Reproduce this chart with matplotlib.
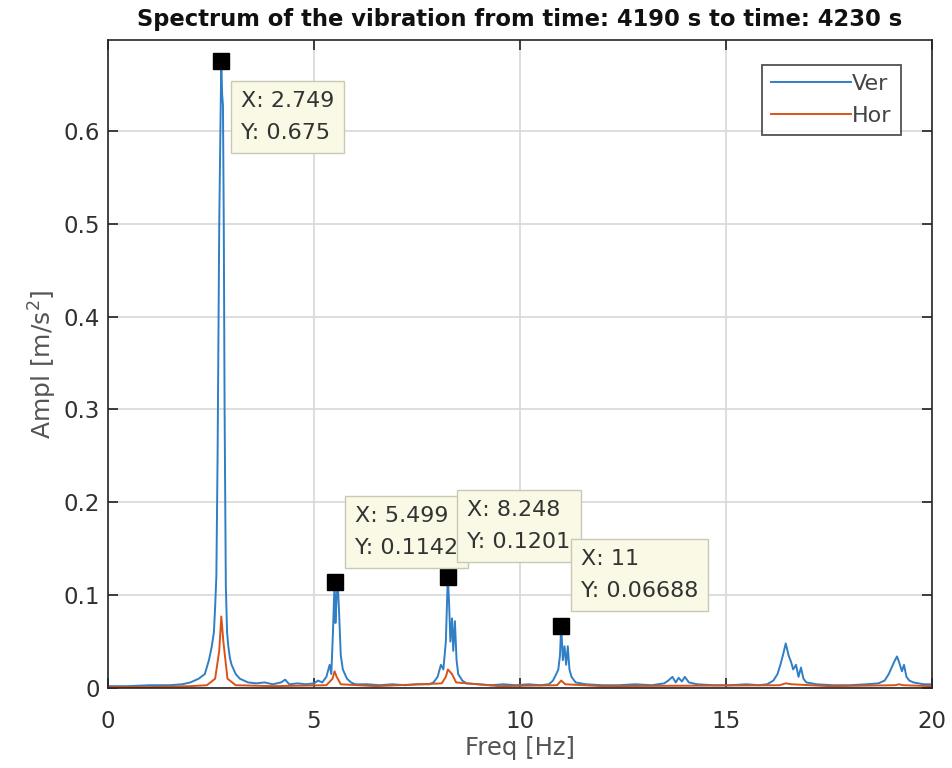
import matplotlib
matplotlib.use("Agg")
import matplotlib.pyplot as plt

plt.rcParams['font.family'] = ['DejaVu Sans']

title = "Spectrum of the vibration from time: 4190 s to time: 4230 s"

ver_f = [0.0, 0.5, 1.0, 1.5, 1.8, 2.0, 2.2, 2.35, 2.45, 2.52, 2.57, 2.6, 2.63, 2.66, 2.7, 2.749,
         2.77, 2.79, 2.81, 2.83, 2.86, 2.89, 2.92, 2.96, 3.0, 3.1, 3.2, 3.4, 3.6, 3.8, 4.0, 4.2, 4.3,
         4.4, 4.6, 4.8, 5.0, 5.1, 5.2, 5.3, 5.38, 5.42, 5.46, 5.499, 5.52, 5.55, 5.58, 5.61, 5.65,
         5.7, 5.8, 5.9, 6.0, 6.3, 6.6, 6.9, 7.2, 7.5, 7.8, 7.9, 8.0, 8.08, 8.14, 8.2, 8.248, 8.28,
         8.31, 8.35, 8.38, 8.42, 8.46, 8.5, 8.6, 8.7, 9.0, 9.3, 9.6, 9.9, 10.2, 10.5, 10.7, 10.8,
         10.88, 10.93, 10.97, 11.0, 11.04, 11.08, 11.12, 11.16, 11.2, 11.25, 11.35, 11.6, 12.0,
         12.4, 12.8, 13.2, 13.5, 13.6, 13.7, 13.78, 13.85, 13.93, 14.0, 14.1, 14.3, 14.7, 15.1,
         15.5, 15.8, 16.0, 16.15, 16.25, 16.32, 16.38, 16.45, 16.52, 16.58, 16.63, 16.7, 16.76,
         16.82, 16.88, 16.95, 17.2, 17.6, 18.0, 18.4, 18.7, 18.85, 18.95, 19.02, 19.08, 19.15,
         19.2, 19.27, 19.32, 19.38, 19.45, 19.55, 19.8, 20.0]
ver_a = [0.002, 0.002, 0.003, 0.003, 0.004, 0.006, 0.010, 0.015, 0.030, 0.045, 0.060, 0.087, 0.120,
         0.250, 0.500, 0.675, 0.640, 0.628, 0.500, 0.300, 0.110, 0.060, 0.045, 0.032, 0.025, 0.015,
         0.010, 0.006, 0.005, 0.006, 0.004, 0.006, 0.009, 0.004, 0.005, 0.004, 0.005, 0.008, 0.006,
         0.012, 0.025, 0.015, 0.060, 0.1142, 0.070, 0.100, 0.110, 0.080, 0.035, 0.020, 0.010, 0.006,
         0.004, 0.004, 0.003, 0.004, 0.003, 0.004, 0.004, 0.006, 0.012, 0.025, 0.020, 0.050, 0.1201,
         0.090, 0.050, 0.075, 0.040, 0.072, 0.030, 0.015, 0.008, 0.005, 0.004, 0.003, 0.004, 0.003,
         0.004, 0.003, 0.004, 0.008, 0.015, 0.020, 0.035, 0.06688, 0.030, 0.045, 0.025, 0.045, 0.020,
         0.012, 0.006, 0.004, 0.003, 0.003, 0.004, 0.003, 0.005, 0.008, 0.012, 0.006, 0.011, 0.007,
         0.012, 0.006, 0.004, 0.003, 0.003, 0.004, 0.003, 0.004, 0.008, 0.015, 0.025, 0.035, 0.048,
         0.035, 0.028, 0.020, 0.025, 0.012, 0.022, 0.010, 0.006, 0.004, 0.003, 0.003, 0.004, 0.005,
         0.008, 0.015, 0.022, 0.028, 0.034, 0.028, 0.018, 0.025, 0.012, 0.008, 0.006, 0.004, 0.004]

hor_f = [0.0, 1.0, 2.0, 2.4, 2.6, 2.7, 2.75, 2.8, 2.9, 3.1, 4.0, 5.3, 5.45, 5.5, 5.55, 5.65, 6.5,
         8.1, 8.2, 8.25, 8.35, 8.45, 9.5, 10.9, 11.0, 11.1, 12.0, 16.3, 16.45, 16.6, 17.5, 19.1,
         19.2, 19.3, 20.0]
hor_a = [0.001, 0.001, 0.002, 0.003, 0.010, 0.040, 0.077, 0.050, 0.010, 0.003, 0.002, 0.003, 0.010,
         0.018, 0.012, 0.004, 0.002, 0.005, 0.012, 0.020, 0.015, 0.006, 0.002, 0.003, 0.008, 0.004,
         0.002, 0.003, 0.005, 0.004, 0.002, 0.003, 0.004, 0.003, 0.002]

tips_x = [2.749, 5.499, 8.248, 11.0]
tips_y = [0.675, 0.1142, 0.1201, 0.06688]
tips_lbl = [("2.749", "0.675"), ("5.499", "0.1142"), ("8.248", "0.1201"), ("11", "0.06688")]
# lower-left of each datatip's text, in data coordinates
tips_pos = [(3.22, 0.587), (6.0, 0.140), (8.72, 0.147), (11.47, 0.094)]

xticks = [0, 5, 10, 15, 20]
yticks = [0, 0.1, 0.2, 0.3, 0.4, 0.5, 0.6]

fig = plt.figure(figsize=(9.53, 7.68), dpi=100)
ax = fig.add_axes([108/953, 1-688/768, (932-108)/953, (688-40)/768])

ax.plot(ver_f, ver_a, color='#2F7EC6', lw=1.4, label='Ver')
ax.plot(hor_f, hor_a, color='#D95319', lw=1.4, label='Hor')

ax.set_xlim(0, 20)
ax.set_ylim(0, 0.698)
ax.set_xticks(xticks)
ax.set_xticklabels([str(t) for t in xticks])
ax.set_yticks(yticks)
ax.set_yticklabels(['0', '0.1', '0.2', '0.3', '0.4', '0.5', '0.6'])
ax.grid(True, color='#D8D8D8', lw=1.2)
ax.set_axisbelow(True)
ax.tick_params(direction='in', length=7, width=1.3, top=True, right=True,
               labelsize=16.5, colors='#303030')
ax.tick_params(axis='x', pad=16)
ax.tick_params(axis='y', pad=6)
for s in ax.spines.values():
    s.set_color('#262626')
    s.set_linewidth(1.2)

ax.set_xlabel('Freq [Hz]', fontsize=17.5, color='#555555', labelpad=2)
ax.set_ylabel('Ampl [m/s$^2$]', fontsize=18, color='#555555', labelpad=3)
ax.set_title(title, fontsize=16.3, fontweight='bold', color='#111111', pad=10)

ax.plot(tips_x, tips_y, 's', color='black', ms=11, zorder=6, clip_on=False)
for i, ((xl, yl), (px, py)) in enumerate(zip(tips_lbl, tips_pos)):
    ax.text(px, py, f"X: {xl}\nY: {yl}", fontsize=16, color='#333333', linespacing=1.75,
            ha='left', va='bottom', zorder=7 + i,
            bbox=dict(boxstyle='square,pad=0.45', fc='#F9F9E6', ec='#C8C8B8', lw=1.0))

leg = ax.legend(loc='upper right', fontsize=16, frameon=True, fancybox=False,
                handlelength=3.6, handletextpad=0.05, borderpad=0.4, labelspacing=0.55,
                borderaxespad=0, bbox_to_anchor=(0.962, 0.962))
leg.get_frame().set_edgecolor('#262626')
leg.get_frame().set_linewidth(1.3)
for t in leg.get_texts():
    t.set_color('#444444')

fig.savefig('out.png', dpi=100)
